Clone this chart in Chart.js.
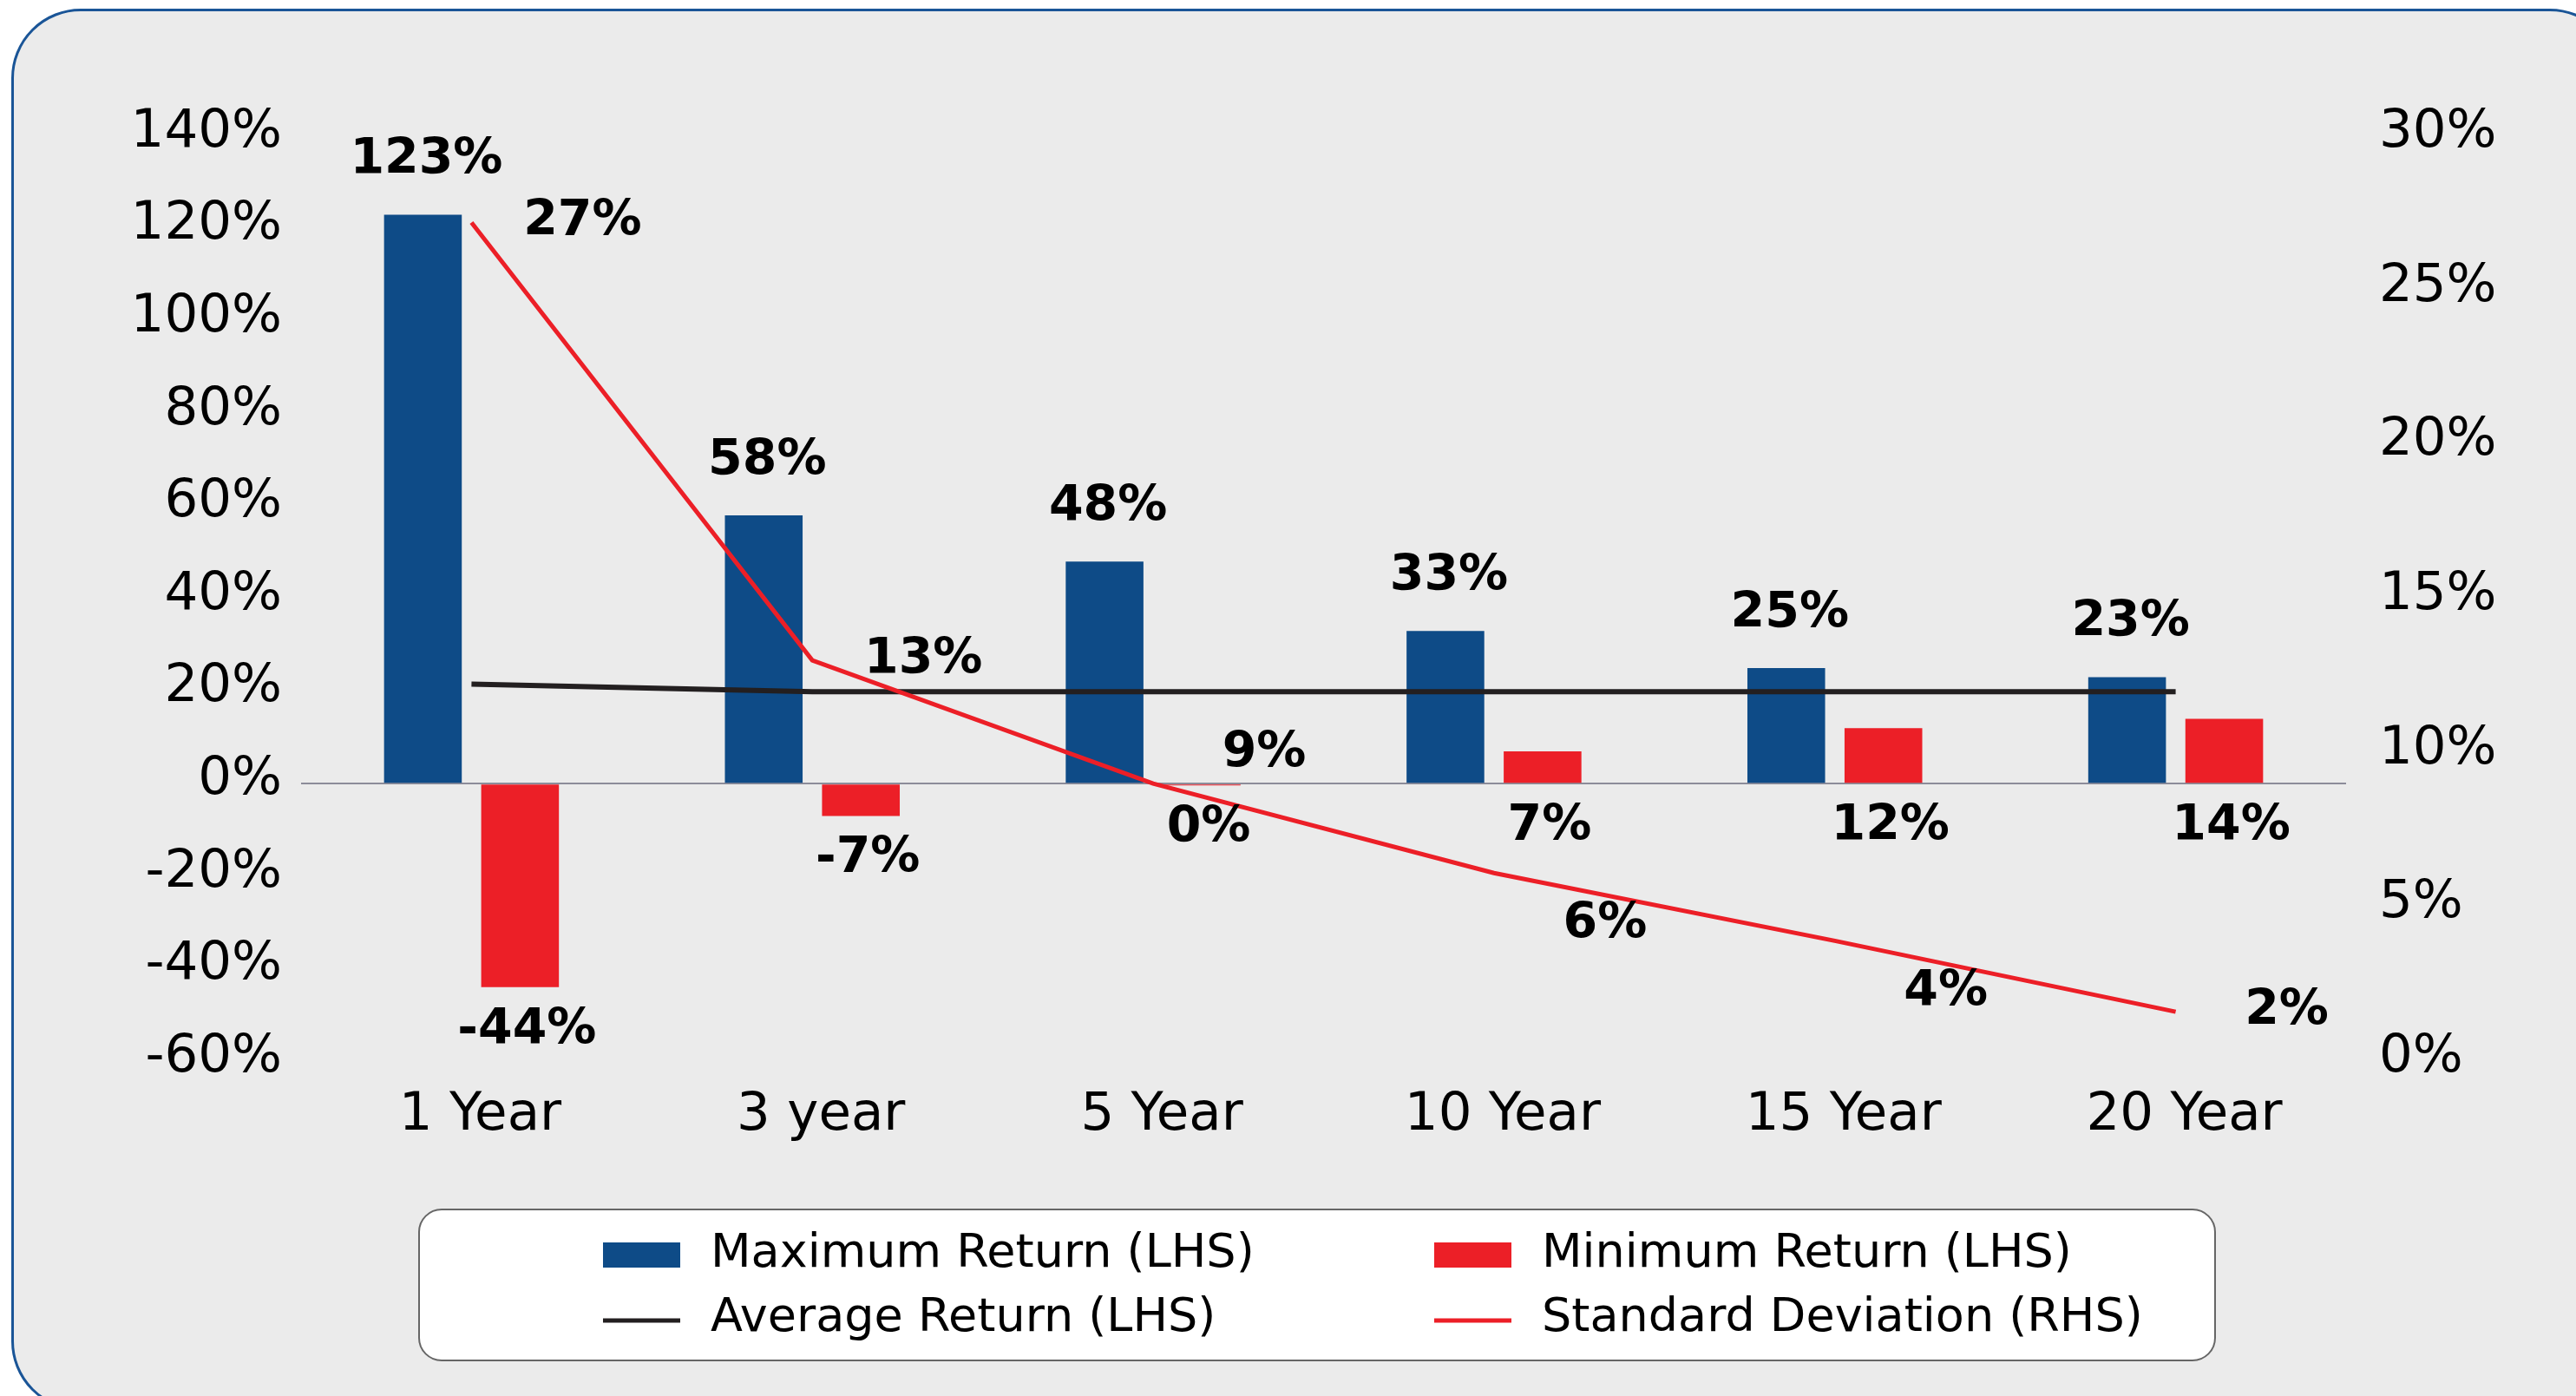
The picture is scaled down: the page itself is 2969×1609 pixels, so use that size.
<!DOCTYPE html>
<html>
<head>
<meta charset="utf-8">
<script src="https://cdn.jsdelivr.net/npm/chart.js@4/dist/chart.umd.min.js"></script>
<style>
  html, body { margin: 0; padding: 0; background: #ffffff; overflow: hidden; }
  #frame {
    position: absolute; left: 13px; top: 10px; width: 3000px; height: 1610px;
    border: 3px solid #1a5597; border-radius: 80px; background: #ebebeb;
  }
  #chart { position: absolute; left: 0; top: 0; }
</style>
</head>
<body>
<div id="frame"></div>
<canvas id="chart" width="2969" height="1609"></canvas>
<script>
// values
var categories = ['1 Year', '3 year', '5 Year', '10 Year', '15 Year', '20 Year'];
var maxReturn = [123, 58, 48, 33, 25, 23];
var minReturn = [-44, -7, -0.4, 7, 12, 14];
var avgReturn = [21.5, 19.9, 19.9, 19.9, 19.9, 19.9];
var stdDev = [27.2, 13, 9, 6.1, 3.9, 1.6];
var seriesNames = ['Maximum Return (LHS)', 'Minimum Return (LHS)', 'Average Return (LHS)', 'Standard Deviation (RHS)'];
var leftAxis = { min: -60, max: 140, step: 20 };
var rightAxis = { min: 0, max: 30, step: 5 };

var BLUE = '#0e4b87', RED = '#ec1f27', BLACK = '#231f20';
var FONT = '"DejaVu Sans", sans-serif';

// manual nudges of the std-dev labels, as in the original
var sdLabelShift = [0, 0, -34, 60, 60, 0];

function pct(v) { return Math.round(v) + '%'; }

var valueLabels = {
	id: 'valueLabels',
	afterDatasetsDraw: function(chart) {
		var ctx = chart.ctx;
		var zeroY = chart.scales.y.getPixelForValue(0);
		ctx.save();
		ctx.font = 'bold 57px ' + FONT;
		ctx.fillStyle = '#000';
		ctx.textAlign = 'center';
		ctx.textBaseline = 'middle';
		chart.getDatasetMeta(0).data.forEach(function(bar, i) {
			ctx.fillText(pct(maxReturn[i]), bar.x + 4, bar.y - 62);
		});
		chart.getDatasetMeta(1).data.forEach(function(bar, i) {
			ctx.fillText(pct(minReturn[i]), bar.x + 8, Math.max(bar.y, zeroY) + 50);
		});
		chart.getDatasetMeta(3).data.forEach(function(pt, i) {
			ctx.fillText(pct(stdDev[i]), pt.x + 128, pt.y + sdLabelShift[i]);
		});
		ctx.restore();
	}
};

var boxLegend = {
	id: 'boxLegend',
	afterDraw: function(chart) {
		var ctx = chart.ctx;
		ctx.save();
		ctx.beginPath();
		ctx.roundRect(483, 1394, 2070, 174, 26);
		ctx.fillStyle = '#ffffff';
		ctx.fill();
		ctx.lineWidth = 2;
		ctx.strokeStyle = '#666666';
		ctx.stroke();

		var cols = [695, 1653], rows = [1446, 1520];
		ctx.font = '54px ' + FONT;
		ctx.textBaseline = 'middle';
		ctx.textAlign = 'left';
		chart.data.datasets.forEach(function(ds, i) {
			var x = cols[i % 2], y = rows[Math.floor(i / 2)];
			if (ds.type === 'line') {
				ctx.strokeStyle = ds.borderColor;
				ctx.lineWidth = 5;
				ctx.beginPath();
				ctx.moveTo(x, y + 2);
				ctx.lineTo(x + 89, y + 2);
				ctx.stroke();
			} else {
				ctx.fillStyle = ds.backgroundColor;
				ctx.fillRect(x, y - 14, 89, 29);
			}
			ctx.fillStyle = '#000';
			ctx.fillText(ds.label, x + 124, y);
		});
		ctx.restore();
	}
};

var ctx = document.getElementById('chart').getContext('2d');
var chart = new Chart(ctx, {
	type: 'bar',
	data: {
		labels: categories,
		datasets: [
			{ label: seriesNames[0], data: maxReturn, backgroundColor: BLUE, yAxisID: 'y', order: 2,
			  categoryPercentage: 0.57, barPercentage: 0.8 },
			{ label: seriesNames[1], data: minReturn, backgroundColor: RED, yAxisID: 'y', order: 2,
			  categoryPercentage: 0.57, barPercentage: 0.8 },
			{ label: seriesNames[2], type: 'line', data: avgReturn, borderColor: BLACK, borderWidth: 6,
			  pointRadius: 0, tension: 0, yAxisID: 'y', order: 1 },
			{ label: seriesNames[3], type: 'line', data: stdDev, borderColor: RED, borderWidth: 5,
			  pointRadius: 0, tension: 0, yAxisID: 'y2', order: 0 }
		]
	},
	options: {
		responsive: false,
		animation: false,
		devicePixelRatio: 1,
		layout: { padding: { top: 157, bottom: 266, left: 0, right: 0 } },
		plugins: { legend: { display: false }, tooltip: { enabled: false } },
		scales: {
			x: {
				grid: { display: false, drawTicks: false },
				border: { display: false },
				ticks: { color: '#000', font: { family: FONT, size: 61 }, padding: 27, labelOffset: 10 },
				afterFit: function(scale) { scale.height = 120; }
			},
			y: {
				position: 'left',
				min: leftAxis.min, max: leftAxis.max,
				grid: {
					drawTicks: false,
					color: function(c) { return c.tick && c.tick.value === 0 ? '#8c8c99' : 'rgba(0,0,0,0)'; },
					lineWidth: 2
				},
				border: { display: false },
				ticks: {
					stepSize: leftAxis.step, color: '#000', padding: 22, labelOffset: -4,
					font: { family: FONT, size: 61 },
					callback: function(v) { return v + '%'; }
				},
				afterFit: function(scale) { scale.width = 347; }
			},
			y2: {
				position: 'right',
				min: rightAxis.min, max: rightAxis.max,
				grid: { display: false, drawTicks: false },
				border: { display: false },
				ticks: {
					stepSize: rightAxis.step, color: '#000', padding: 38, labelOffset: -4,
					font: { family: FONT, size: 61 },
					callback: function(v) { return v + '%'; }
				},
				afterFit: function(scale) { scale.width = 265; }
			}
		}
	},
	plugins: [valueLabels, boxLegend]
});
</script>
</body>
</html>
